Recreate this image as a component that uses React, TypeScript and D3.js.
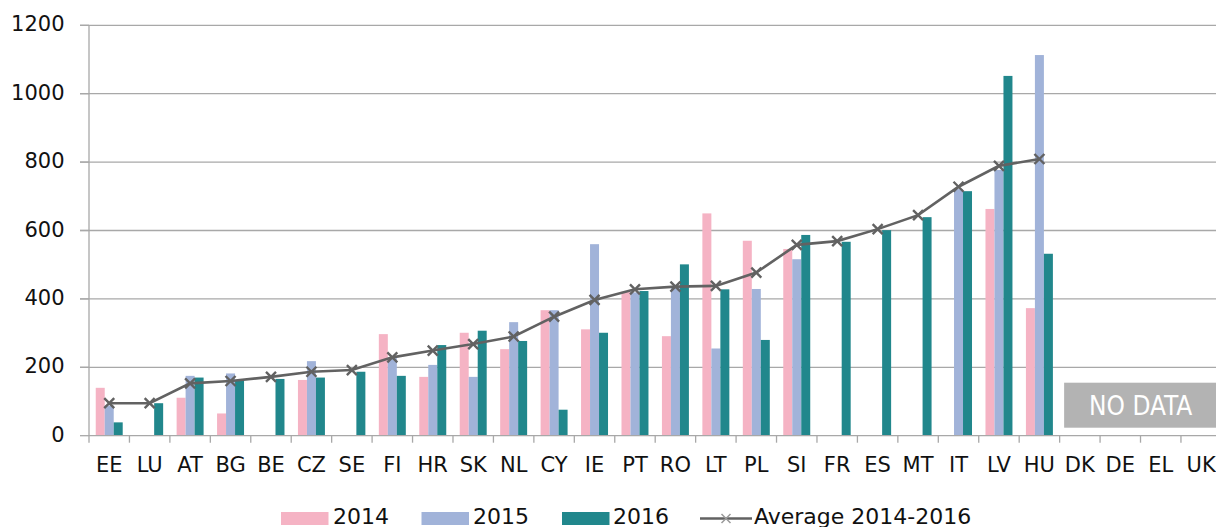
import React from "react";
import * as d3 from "d3";

const categories = ["EE","LU","AT","BG","BE","CZ","SE","FI","HR","SK","NL","CY","IE","PT","RO","LT","PL","SI","FR","ES","MT","IT","LV","HU","DK","DE","EL","UK"];
const v2014: (number | null)[] = [140, null, 111, 65, null, 163, null, 297, 172, 301, 253, 367, 311, 421, 291, 650, 570, 546, null, null, null, null, 663, 373, null, null, null, null];
const v2015: (number | null)[] = [88, null, 175, 182, null, 218, null, 228, 207, 172, 332, 367, 560, 419, 434, 255, 429, 516, null, null, null, 721, 777, 1113, null, null, null, null];
const v2016: (number | null)[] = [39, 95, 170, 160, 166, 170, 187, 175, 265, 307, 277, 76, 301, 423, 501, 428, 280, 587, 567, 601, 639, 715, 1052, 532, null, null, null, null];
const average: (number | null)[] = [95, 95, 153, 160, 172, 187, 192, 229, 249, 268, 290, 348, 397, 428, 436, 438, 477, 558, 569, 604, 645, 728, 789, 809, null, null, null, null];
const seriesNames = ["2014", "2015", "2016"];
const yTicks = [0, 200, 400, 600, 800, 1000, 1200];
const avgLabel = "Average 2014-2016";
const noDataLabel = "NO DATA";

const colors = ["#F5B3C4", "#A1B3D9", "#21878C"];
const lineColor = "#626262";
const gridColor = "#A8A8A8";
const font = "'DejaVu Sans', sans-serif";

export default function App() {
  const W = 1216, H = 527;
  const left = 89, right = 1221.4, top = 25.3, bottom = 435.7;
  const x = d3.scaleBand<string>().domain(categories).range([left, right]).paddingInner(0).paddingOuter(0);
  const y = d3.scaleLinear().domain([0, 1200]).range([bottom, top]);
  const bw = x.bandwidth();
  const gw = bw * 0.667;
  const x1 = d3.scaleBand<string>().domain(seriesNames).range([(bw - gw) / 2, (bw + gw) / 2]);
  const series = [v2014, v2015, v2016];

  const avgPts = categories
    .map((c, i) => ({ c, v: average[i] }))
    .filter((d) => d.v != null) as { c: string; v: number }[];
  const line = d3.line<{ c: string; v: number }>()
    .x((d) => (x(d.c) as number) + bw / 2)
    .y((d) => y(d.v));

  const cross = (cx: number, cy: number, s: number, key: string, color: string, sw: number) => (
    <path key={key} d={`M${cx - s},${cy - s}L${cx + s},${cy + s}M${cx - s},${cy + s}L${cx + s},${cy - s}`} stroke={color} strokeWidth={sw} fill="none" />
  );

  const noDataX = x("DK") as number;

  const legendItems = [
    { sx: 281, tx: 333, label: seriesNames[0], color: colors[0] },
    { sx: 421.5, tx: 473, label: seriesNames[1], color: colors[1] },
    { sx: 562, tx: 613, label: seriesNames[2], color: colors[2] },
  ];

  return (
    <svg width={W} height={H} style={{ position: "absolute", left: 0, top: 0, display: "block" }} fontFamily={font}>
      <rect x={0} y={0} width={W} height={H} fill="#fff" />
      {yTicks.filter((t) => t > 0).map((t) => (
        <line key={"g" + t} x1={80} x2={right} y1={y(t)} y2={y(t)} stroke={gridColor} strokeWidth={1.3} />
      ))}
      {yTicks.map((t) => (
        <line key={"yt" + t} x1={80} x2={left} y1={y(t)} y2={y(t)} stroke={gridColor} strokeWidth={1.3} />
      ))}
      {yTicks.map((t) => (
        <text key={"yl" + t} x={64.5} y={y(t) + 6} textAnchor="end" fontSize={21} fill="#111">{t}</text>
      ))}
      {series.map((s, si) =>
        categories.map((c, i) => {
          const v = s[i];
          if (v == null) return null;
          const bx = (x(c) as number) + (x1(seriesNames[si]) as number);
          return <rect key={`b${si}-${i}`} x={bx} y={y(v)} width={x1.bandwidth()} height={y(0) - y(v)} fill={colors[si]} />;
        })
      )}
      <line x1={left} x2={left} y1={top} y2={bottom + 7} stroke={gridColor} strokeWidth={1.3} />
      <line x1={left} x2={right} y1={bottom} y2={bottom} stroke={gridColor} strokeWidth={1.3} />
      {categories.map((c) => (
        <line key={"xt" + c} x1={(x(c) as number) + bw} x2={(x(c) as number) + bw} y1={bottom} y2={bottom + 7} stroke={gridColor} strokeWidth={1.3} />
      ))}
      {categories.map((c) => (
        <text key={"xl" + c} x={(x(c) as number) + bw / 2} y={471.7} textAnchor="middle" fontSize={21} fill="#111">{c}</text>
      ))}
      <path d={line(avgPts) || ""} stroke={lineColor} strokeWidth={2.6} fill="none" />
      {avgPts.map((d) => cross((x(d.c) as number) + bw / 2, y(d.v), 5, "m" + d.c, lineColor, 2.4))}
      <rect x={noDataX + 4.5} y={382.7} width={right - noDataX} height={45} fill="#B3B3B3" />
      <text x={noDataX + 81} y={415} textAnchor="middle" fontSize={26} fill="#fff" fontFamily="'DejaVu Sans Condensed', 'DejaVu Sans', sans-serif" style={{ fontStretch: "condensed" }}>{noDataLabel}</text>
      {legendItems.map((it) => (
        <g key={"lg" + it.label}>
          <rect x={it.sx} y={512} width={47.5} height={13} fill={it.color} />
          <text x={it.tx} y={524} fontSize={22} fill="#111">{it.label}</text>
        </g>
      ))}
      <line x1={700} x2={752} y1={518.5} y2={518.5} stroke={lineColor} strokeWidth={2.4} />
      {cross(726, 518.5, 4.5, "legX", "#9a9a9a", 1.5)}
      <text x={754} y={524} fontSize={22} fill="#111">{avgLabel}</text>
    </svg>
  );
}
